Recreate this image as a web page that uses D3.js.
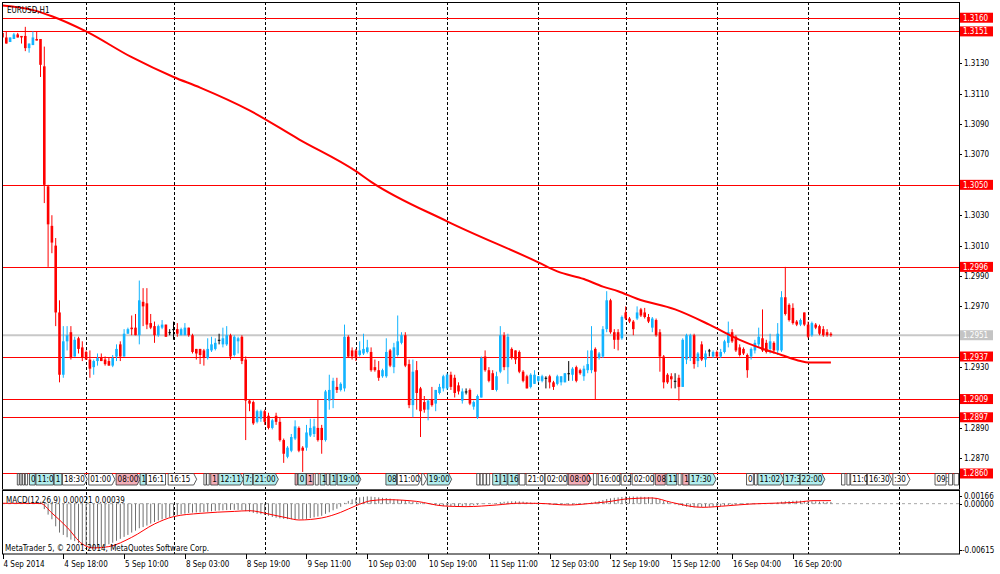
<!DOCTYPE html>
<html><head><meta charset="utf-8">
<script src="https://cdn.jsdelivr.net/npm/d3@7/dist/d3.min.js"></script>
<style>
html,body{margin:0;padding:0;background:#fff;}
svg{display:block;}
text{font-family:"DejaVu Sans Condensed","DejaVu Sans",sans-serif;font-size:8px;fill:#000;}
</style></head><body>
<svg id="chart" width="1000" height="574"></svg>
<script>
// ---------------- DATA ----------------
const symbolTitle = "EURUSD,H1";
const opens = [1.3150,1.3147,1.3144,1.3146,1.3149,1.3148,1.3148,1.3140,1.3142,1.3146,1.3146,1.3128,1.3049,1.3023,1.3010,1.2966,1.2925,1.2947,1.2953,1.2937,
1.2949,1.2943,1.2940,1.2935,1.2930,1.2934,1.2936,1.2935,1.2934,1.2931,1.2937,1.2945,1.2937,1.2952,1.2956,1.2956,1.2951,1.2973,1.2972,1.2959,
1.2957,1.2951,1.2956,1.2958,1.2953,1.2955,1.2955,1.2951,1.2951,1.2956,1.2951,1.2942,1.2942,1.2941,1.2936,1.2941,1.2942,1.2948,1.2945,1.2945,
1.2951,1.2938,1.2947,1.2950,1.2935,1.2908,1.2907,1.2894,1.2896,1.2901,1.2898,1.2890,1.2898,1.2894,1.2882,1.2871,1.2875,1.2883,1.2890,1.2877,
1.2877,1.2885,1.2886,1.2890,1.2890,1.2882,1.2908,1.2909,1.2917,1.2915,1.2916,1.2950,1.2941,1.2941,1.2938,1.2939,1.2940,1.2940,1.2930,1.2928,
1.2924,1.2924,1.2941,1.2930,1.2938,1.2946,1.2951,1.2932,1.2905,1.2928,1.2916,1.2907,1.2902,1.2909,1.2906,1.2913,1.2916,1.2916,1.2925,1.2923,
1.2918,1.2908,1.2914,1.2915,1.2904,1.2897,1.2910,1.2937,1.2928,1.2926,1.2915,1.2927,1.2951,1.2930,1.2942,1.2941,1.2940,1.2927,1.2924,1.2917,
1.2919,1.2921,1.2921,1.2923,1.2924,1.2920,1.2919,1.2920,1.2920,1.2926,1.2925,1.2930,1.2928,1.2924,1.2928,1.2928,1.2942,1.2936,1.2937,1.2955,
1.2974,1.2953,1.2953,1.2949,1.2966,1.2962,1.2960,1.2962,1.2968,1.2966,1.2963,1.2956,1.2961,1.2953,1.2937,1.2925,1.2924,1.2921,1.2923,1.2917,
1.2935,1.2936,1.2951,1.2934,1.2945,1.2935,1.2941,1.2937,1.2940,1.2937,1.2940,1.2946,1.2953,1.2950,1.2943,1.2942,1.2938,1.2937,1.2941,1.2945,
1.2949,1.2946,1.2942,1.2946,1.2941,1.2941,1.2976,1.2971,1.2969,1.2960,1.2958,1.2966,1.2958,1.2951,1.2958,1.2957,1.2955,1.2953,1.2952];
const highs = [1.3151,1.3151,1.3147,1.3150,1.3150,1.3148,1.3154,1.3143,1.3151,1.3151,1.3146,1.3141,1.3050,1.3030,1.3015,1.2974,1.2957,1.2957,1.2957,1.2950,
1.2950,1.2947,1.2941,1.2941,1.2935,1.2939,1.2939,1.2937,1.2936,1.2938,1.2945,1.2947,1.2955,1.2956,1.2964,1.2965,1.2987,1.2982,1.2982,1.2965,
1.2960,1.2958,1.2961,1.2958,1.2955,1.2960,1.2959,1.2956,1.2959,1.2956,1.2952,1.2942,1.2942,1.2942,1.2949,1.2950,1.2949,1.2952,1.2956,1.2957,
1.2952,1.2951,1.2950,1.2951,1.2937,1.2909,1.2908,1.2902,1.2902,1.2902,1.2900,1.2896,1.2900,1.2897,1.2883,1.2878,1.2886,1.2895,1.2891,1.2878,
1.2892,1.2896,1.2896,1.2909,1.2892,1.2915,1.2925,1.2923,1.2923,1.2920,1.2958,1.2951,1.2943,1.2942,1.2947,1.2952,1.2948,1.2943,1.2935,1.2934,
1.2929,1.2949,1.2942,1.2946,1.2964,1.2953,1.2953,1.2935,1.2935,1.2934,1.2917,1.2911,1.2909,1.2917,1.2915,1.2919,1.2925,1.2926,1.2927,1.2925,
1.2920,1.2916,1.2916,1.2916,1.2908,1.2912,1.2937,1.2941,1.2930,1.2928,1.2927,1.2957,1.2953,1.2952,1.2943,1.2941,1.2941,1.2928,1.2925,1.2926,
1.2928,1.2924,1.2925,1.2924,1.2925,1.2921,1.2925,1.2924,1.2926,1.2934,1.2930,1.2931,1.2929,1.2931,1.2941,1.2957,1.2943,1.2940,1.2957,1.2980,
1.2975,1.2955,1.2955,1.2964,1.2970,1.2963,1.2961,1.2970,1.2969,1.2969,1.2965,1.2963,1.2962,1.2955,1.2938,1.2926,1.2926,1.2926,1.2925,1.2949,
1.2952,1.2952,1.2952,1.2940,1.2947,1.2941,1.2942,1.2941,1.2941,1.2942,1.2948,1.2960,1.2955,1.2951,1.2945,1.2943,1.2939,1.2943,1.2948,1.2956,
1.2968,1.2948,1.2952,1.2947,1.2959,1.2980,1.2996,1.2972,1.2972,1.2961,1.2962,1.2966,1.2960,1.2960,1.2959,1.2958,1.2957,1.2955,1.2953];
const lows = [1.3145,1.3143,1.3144,1.3146,1.3147,1.3143,1.3138,1.3137,1.3142,1.3145,1.3121,1.3038,1.2996,1.3005,1.2957,1.2920,1.2923,1.2941,1.2935,1.2937,
1.2939,1.2934,1.2935,1.2923,1.2925,1.2931,1.2934,1.2931,1.2931,1.2930,1.2934,1.2934,1.2937,1.2952,1.2951,1.2951,1.2945,1.2957,1.2955,1.2955,
1.2946,1.2950,1.2955,1.2950,1.2951,1.2948,1.2950,1.2951,1.2951,1.2950,1.2939,1.2935,1.2932,1.2931,1.2935,1.2940,1.2941,1.2945,1.2943,1.2944,
1.2935,1.2937,1.2939,1.2932,1.2882,1.2901,1.2892,1.2893,1.2894,1.2892,1.2889,1.2889,1.2892,1.2881,1.2867,1.2870,1.2874,1.2882,1.2874,1.2861,
1.2875,1.2884,1.2884,1.2881,1.2873,1.2881,1.2902,1.2903,1.2913,1.2914,1.2914,1.2936,1.2935,1.2934,1.2937,1.2938,1.2939,1.2927,1.2927,1.2921,
1.2923,1.2923,1.2930,1.2926,1.2937,1.2945,1.2930,1.2903,1.2897,1.2902,1.2884,1.2900,1.2895,1.2904,1.2901,1.2912,1.2914,1.2915,1.2915,1.2910,
1.2912,1.2906,1.2912,1.2905,1.2902,1.2896,1.2910,1.2927,1.2920,1.2915,1.2914,1.2926,1.2928,1.2919,1.2935,1.2932,1.2926,1.2920,1.2916,1.2916,
1.2919,1.2920,1.2920,1.2916,1.2916,1.2915,1.2918,1.2918,1.2920,1.2921,1.2921,1.2920,1.2925,1.2921,1.2926,1.2926,1.2909,1.2935,1.2936,1.2953,
1.2952,1.2942,1.2941,1.2948,1.2961,1.2959,1.2951,1.2961,1.2963,1.2962,1.2959,1.2953,1.2950,1.2927,1.2916,1.2919,1.2916,1.2916,1.2908,1.2917,
1.2932,1.2934,1.2929,1.2930,1.2934,1.2930,1.2937,1.2936,1.2936,1.2936,1.2939,1.2943,1.2946,1.2940,1.2937,1.2938,1.2923,1.2935,1.2939,1.2943,
1.2940,1.2939,1.2939,1.2939,1.2938,1.2940,1.2964,1.2960,1.2958,1.2957,1.2957,1.2957,1.2949,1.2950,1.2955,1.2951,1.2950,1.2950,1.2950];
const closes = [1.3147,1.3143,1.3147,1.3149,1.3147,1.3147,1.3140,1.3143,1.3147,1.3145,1.3129,1.3050,1.3024,1.3012,1.2966,1.2925,1.2947,1.2951,1.2936,1.2948,
1.2942,1.2936,1.2935,1.2929,1.2934,1.2936,1.2934,1.2932,1.2931,1.2936,1.2942,1.2937,1.2952,1.2955,1.2955,1.2951,1.2974,1.2970,1.2958,1.2956,
1.2951,1.2957,1.2958,1.2950,1.2953,1.2955,1.2952,1.2955,1.2956,1.2951,1.2940,1.2939,1.2938,1.2936,1.2942,1.2945,1.2946,1.2948,1.2949,1.2951,
1.2937,1.2950,1.2949,1.2934,1.2908,1.2906,1.2893,1.2901,1.2901,1.2894,1.2890,1.2895,1.2894,1.2882,1.2873,1.2877,1.2884,1.2891,1.2875,1.2875,
1.2887,1.2890,1.2891,1.2882,1.2882,1.2914,1.2915,1.2921,1.2915,1.2919,1.2950,1.2937,1.2937,1.2936,1.2941,1.2942,1.2943,1.2928,1.2928,1.2923,
1.2928,1.2940,1.2931,1.2943,1.2947,1.2951,1.2931,1.2905,1.2927,1.2913,1.2901,1.2902,1.2908,1.2905,1.2915,1.2917,1.2924,1.2925,1.2917,1.2913,
1.2914,1.2914,1.2914,1.2906,1.2907,1.2911,1.2936,1.2928,1.2921,1.2915,1.2924,1.2951,1.2930,1.2950,1.2936,1.2935,1.2927,1.2921,1.2916,1.2925,
1.2925,1.2924,1.2924,1.2923,1.2920,1.2917,1.2924,1.2924,1.2926,1.2926,1.2929,1.2921,1.2926,1.2929,1.2932,1.2941,1.2927,1.2939,1.2955,1.2974,
1.2953,1.2948,1.2948,1.2963,1.2962,1.2960,1.2955,1.2966,1.2964,1.2963,1.2960,1.2962,1.2951,1.2937,1.2920,1.2920,1.2922,1.2921,1.2917,1.2948,
1.2951,1.2951,1.2932,1.2939,1.2935,1.2939,1.2941,1.2940,1.2937,1.2940,1.2947,1.2953,1.2947,1.2941,1.2938,1.2939,1.2928,1.2942,1.2946,1.2950,
1.2941,1.2940,1.2947,1.2941,1.2952,1.2976,1.2965,1.2961,1.2959,1.2958,1.2961,1.2958,1.2950,1.2959,1.2956,1.2952,1.2951,1.2951,1.2951];

// moving average (read at sample bars)
const maBars   = [0,8,13,22,34,45,52,65,78,93,97,117,141,146,153,158,162,167,177,186,194,199,205,210,212,218];
const maValues = [1.3168,1.3165,1.3161,1.3151,1.3134,1.3121,1.3114,1.3099,1.3080,1.3059,1.3052,1.3026,1.2999,1.2993,1.2988,1.2983,1.2980,1.2975,1.2968,1.2958,1.2948,1.2943,1.2938,1.2934,1.2933,1.2933];

// MACD(12,26,9) main histogram, one value per bar
const macdMain = [0.00008,0.00008,0.00007,0.00007,0.00006,0.00006,0.00005,0.00004,0.00004,0.00003,0.00000,-0.00070,-0.00140,-0.00200,-0.00290,-0.00370,-0.00400,-0.00430,-0.00460,-0.00480,
-0.00505,-0.00530,-0.00545,-0.00560,-0.00567,-0.00565,-0.00555,-0.00540,-0.00520,-0.00500,-0.00475,-0.00450,-0.00425,-0.00400,-0.00370,-0.00345,-0.00315,-0.00300,-0.00280,-0.00255,
-0.00235,-0.00215,-0.00200,-0.00185,-0.00170,-0.00155,-0.00145,-0.00135,-0.00128,-0.00120,-0.00115,-0.00112,-0.00110,-0.00108,-0.00104,-0.00098,-0.00092,-0.00088,-0.00084,-0.00082,
-0.00080,-0.00079,-0.00080,-0.00082,-0.00095,-0.00105,-0.00118,-0.00128,-0.00135,-0.00145,-0.00155,-0.00170,-0.00180,-0.00188,-0.00195,-0.00198,-0.00200,-0.00198,-0.00198,-0.00200,
-0.00195,-0.00185,-0.00175,-0.00165,-0.00155,-0.00130,-0.00110,-0.00085,-0.00065,-0.00040,0.00010,0.00035,0.00055,0.00070,0.00080,0.00088,0.00093,0.00090,0.00085,0.00080,
0.00075,0.00072,0.00065,0.00058,0.00050,0.00045,0.00038,0.00030,0.00025,0.00018,0.00010,0.00005,0.00000,-0.00012,-0.00020,-0.00028,-0.00032,-0.00035,-0.00036,-0.00035,
-0.00033,-0.00030,-0.00028,-0.00026,-0.00022,-0.00015,-0.00005,0.00002,0.00005,0.00004,0.00006,0.00020,0.00024,0.00028,0.00030,0.00030,0.00029,0.00026,0.00020,0.00015,
0.00010,0.00005,0.00000,-0.00005,-0.00010,-0.00015,-0.00017,-0.00018,-0.00017,-0.00015,-0.00014,-0.00013,-0.00013,-0.00008,0.00000,0.00015,0.00025,0.00035,0.00045,0.00060,
0.00068,0.00075,0.00080,0.00086,0.00090,0.00092,0.00091,0.00090,0.00089,0.00086,0.00084,0.00081,0.00072,0.00055,0.00035,0.00020,0.00005,-0.00008,-0.00020,-0.00030,
-0.00038,-0.00045,-0.00047,-0.00046,-0.00044,-0.00042,-0.00040,-0.00038,-0.00035,-0.00030,-0.00025,-0.00020,-0.00017,-0.00014,-0.00012,-0.00010,-0.00009,-0.00009,-0.00007,-0.00004,
0.00000,0.00002,0.00004,0.00008,0.00015,0.00025,0.00030,0.00034,0.00037,0.00038,0.00038,0.00035,0.00033,0.00030,0.00028,0.00026,0.00024,0.00022,0.00021];
// MACD signal line (read at sample bars)
const signalBars   = [0,10,13,17,21,24,28,34,40,45,52,61,65,70,75,78,84,89,93,97,101,109,116,122,130,136,141,149,155,160,164,171,176,184,191,197,205,210,213,218];
const signalValues = [0.00005,0.00003,-0.00120,-0.00303,-0.00516,-0.00567,-0.00550,-0.00431,-0.00260,-0.00166,-0.00124,-0.00099,-0.00090,-0.00132,-0.00183,-0.00209,-0.00183,-0.00111,-0.00026,0.00038,
0.00051,0.00029,-0.00029,-0.00038,-0.00017,0.00006,0.00004,-0.00017,0.00004,0.00029,0.00060,0.00073,0.00017,-0.00047,-0.00026,-0.00004,0.00009,0.00022,0.00038,0.00039];
const macdTitle = "MACD(12,26,9) 0.00021 0.00039";
const macdAxisLabels = ["0.00166","0.00000","-0.00615"];
const macdAxisValues = [0.00166,0.00000,-0.00615];

// price levels (horizontal lines) and bid
const levelValues = [1.3160,1.3151,1.3050,1.2996,1.2937,1.2909,1.2897,1.2860];
const levelLabels = ["1.3160","1.3151","1.3050","1.2996","1.2937","1.2909","1.2897","1.2860"];
const bidValue = 1.2951, bidLabel = "1.2951";
const priceTickValues = [1.3130,1.3110,1.3090,1.3070,1.3030,1.3010,1.2990,1.2970,1.2930,1.2890,1.2870];
const priceTickLabels = ["1.3130","1.3110","1.3090","1.3070","1.3030","1.3010","1.2990","1.2970","1.2930","1.2890","1.2870"];

// time axis
const timeLabelBars = [0,16,32,48,64,80,96,112,128,144,160,176,192,208];
const timeLabels = ["4 Sep 2014","4 Sep 18:00","5 Sep 10:00","8 Sep 03:00","8 Sep 19:00","9 Sep 11:00","10 Sep 03:00","10 Sep 19:00","11 Sep 11:00","12 Sep 03:00","12 Sep 19:00","15 Sep 12:00","16 Sep 04:00","16 Sep 20:00"];
const daySeparatorBars = [22,45,69,93,117,141,164,188,212,236];

// trade history tags (bar span, text, kind)
const tagStart = [3.9,4.6,5.3,6.0,7.1,8.8,13.6,15.8,22.7,29.9,36.2,37.9,43.6,53.0,53.7,54.8,56.9,63.4,66.0,77.0,77.8,80.0,82.3,83.6,85.3,86.2,88.1,100.9,103.9,110.3,111.8,124.8,
125.7,126.5,127.4,129.0,131.1,133.0,136.0,137.8,142.8,148.9,155.5,156.8,162.8,165.7,171.8,174.8,177.8,179.0,180.7,195.8,197.9,198.8,205.5,209.9,220.8,222.2,223.2,227.6,234.3,245.4,249.0,250.4];
const tagEnd   = [4.4,5.1,5.8,6.6,8.6,13.4,15.6,22.3,29.6,36.2,37.7,42.9,51.1,53.6,54.4,56.7,63.4,65.8,72.6,77.6,79.9,81.8,83.1,84.9,86.0,87.8,94.3,103.7,110.1,111.6,118.2,125.6,
126.4,127.3,128.2,130.9,132.8,135.7,137.5,142.7,148.6,154.9,156.4,162.5,165.3,171.4,174.4,177.4,178.6,180.6,187.8,197.6,198.6,205.5,209.9,216.4,221.7,223.0,227.4,234.0,238.8,248.3,250.0,251.6];
const tagText  = ["","","","","0","11:0","1","18:30","01:00","08:00","1","16:1","16:15","","","1","12:11","7:","21:00","","0","1","","1","","1","19:00","08","11:00","","19:00","",
"","","","1","1","16","","21:0","02:00","08:00","","16:00","02","02:00","08","11","","1","17:30","0","","11:02","17:3","22:00","","","11:0","16:30",":30","09:","",""];
const tagKind  = ["w","w","w","w","c","c","c","wa","wa","pa","c","w","wa","w","w","p","ca","c","ca","p","c","p","w","c","w","c","ca","c","wa","wa","ca","w",
"w","w","w","c","c","c","w","w","w","pa","w","w","w","w","p","c","w","p","ca","w","w","ca","c","ca","w","w","w","wa","wa","w","w","w"];
const copyright = "MetaTrader 5, \u00A9 2001-2014, MetaQuotes Software Corp.";

// ---------------- DRAW ----------------
const svg = d3.select("#chart");
const L = 2, R = 959, T = 2, MB = 489, ST = 490.5, SB = 554;
const x = d3.scaleLinear().domain([0, 236]).range([2.5, 899.3]);
const y = d3.scaleLinear().domain([1.2870, 1.3130]).range([458.3, 63.3]);
const ym = d3.scaleLinear().domain([-0.00615, 0.00166]).range([551.7, 490.7]);
const BULL = "#12B4FF", BEAR = "#FF0000", DOJI = "#000000";
const crisp = v => Math.round(v) + 0.5;

const defs = svg.append("defs");
defs.append("clipPath").attr("id","mainClip").append("rect").attr("x",L).attr("y",T).attr("width",R-L).attr("height",MB-T);
defs.append("clipPath").attr("id","subClip").append("rect").attr("x",L).attr("y",ST).attr("width",R-L).attr("height",SB-ST);

svg.append("rect").attr("width",1000).attr("height",574).attr("fill","#fff");

// separators (through both windows)
svg.append("g").selectAll("line").data(daySeparatorBars).join("line")
  .attr("x1", d => crisp(x(d))).attr("x2", d => crisp(x(d)))
  .attr("y1", T).attr("y2", SB)
  .attr("stroke", "#000").attr("stroke-width", 1).attr("stroke-dasharray", "3,2");

const main = svg.append("g").attr("clip-path","url(#mainClip)");

// bid line
main.append("line").attr("x1",L).attr("x2",R).attr("y1",y(bidValue)).attr("y2",y(bidValue))
  .attr("stroke","#C8C8C8").attr("stroke-width",2);

// level lines
main.append("g").selectAll("line").data(levelValues).join("line")
  .attr("x1",L).attr("x2",R).attr("y1",d=>crisp(y(d))).attr("y2",d=>crisp(y(d)))
  .attr("stroke","#FF0000").attr("stroke-width",1);

// candles
const idx = d3.range(opens.length);
const col = i => closes[i] > opens[i] ? BULL : (closes[i] < opens[i] ? BEAR : DOJI);
main.append("g").selectAll("line").data(idx).join("line")
  .attr("x1", i => x(i)).attr("x2", i => x(i))
  .attr("y1", i => y(highs[i])).attr("y2", i => y(lows[i]))
  .attr("stroke", col).attr("stroke-width", 1);
main.append("g").selectAll("rect").data(idx).join("rect")
  .attr("x", i => x(i) - 1.3).attr("width", 2.6)
  .attr("y", i => y(Math.max(opens[i], closes[i])))
  .attr("height", i => Math.max(1, Math.abs(y(opens[i]) - y(closes[i]))))
  .attr("fill", col);

// moving average
const maLine = d3.line().x((d,i)=>x(maBars[i])).y((d,i)=>y(maValues[i])).curve(d3.curveMonotoneX);
main.append("path").datum(maValues).attr("d", maLine).attr("fill","none").attr("stroke","#FF0000").attr("stroke-width",2);

// trade tags
const tagFill = k => k[0]==="c" ? "#B2EEEE" : (k[0]==="p" ? "#F2AEB8" : "#FFFFFF");
const tTop = 473.5, tBot = 485;
const tags = main.append("g").selectAll("g").data(tagStart.map((s,i)=>i)).join("g");
tags.append("path").attr("d", i => {
  const x0 = x(tagStart[i]), x1 = x(tagEnd[i]);
  if (tagKind[i].endsWith("a")) {
    return `M${x0},${tTop}L${x1-3},${tTop}L${x1},${(tTop+tBot)/2}L${x1-3},${tBot}L${x0},${tBot}Z`;
  }
  return `M${x0},${tTop}L${x1},${tTop}L${x1},${tBot}L${x0},${tBot}Z`;
}).attr("fill", i => tagFill(tagKind[i])).attr("stroke","#333").attr("stroke-width",0.8);
tags.append("text").attr("x", i => x(tagStart[i]) + 1.5).attr("y", 482.3).text(i => tagText[i]);

// title
svg.append("text").attr("x",7).attr("y",12.5).text(symbolTitle);

// MACD window
const sub = svg.append("g").attr("clip-path","url(#subClip)");
sub.append("line").attr("x1",L).attr("x2",R).attr("y1",ym(0)).attr("y2",ym(0))
  .attr("stroke","#A8A8A8").attr("stroke-width",1).attr("stroke-dasharray","3,3");
sub.append("g").selectAll("line").data(d3.range(macdMain.length)).join("line")
  .attr("x1", i => x(i)).attr("x2", i => x(i))
  .attr("y1", ym(0)).attr("y2", i => ym(macdMain[i]))
  .attr("stroke", "#707070").attr("stroke-width", 1);
const sigLine = d3.line().x((d,i)=>x(signalBars[i])).y((d,i)=>ym(signalValues[i])).curve(d3.curveMonotoneX);
sub.append("path").datum(signalValues).attr("d", sigLine).attr("fill","none").attr("stroke","#FF0000").attr("stroke-width",1);
svg.append("text").attr("x",6).attr("y",502.5).text(macdTitle);
svg.append("text").attr("x",5).attr("y",550.5).text(copyright);

// frames
svg.append("rect").attr("x",L+0.5).attr("y",T+0.5).attr("width",R-L).attr("height",MB-T).attr("fill","none").attr("stroke","#000");
svg.append("line").attr("x1",L).attr("x2",R+1).attr("y1",490).attr("y2",490).attr("stroke","#555").attr("stroke-width",2);
svg.append("rect").attr("x",L+0.5).attr("y",ST).attr("width",R-L).attr("height",SB-ST).attr("fill","none").attr("stroke","#000");

// right price axis
const ax = svg.append("g");
ax.selectAll("line.t").data(priceTickValues).join("line").attr("class","t")
  .attr("x1",R).attr("x2",R+3).attr("y1",d=>crisp(y(d))).attr("y2",d=>crisp(y(d))).attr("stroke","#000");
ax.selectAll("text.t").data(priceTickValues).join("text").attr("class","t")
  .attr("x",R+5).attr("y",d=>y(d)+3).text((d,i)=>priceTickLabels[i]);
// level labels
const lv = ax.selectAll("g.lv").data(levelValues).join("g").attr("class","lv");
lv.append("rect").attr("x",R+1).attr("y",d=>y(d)-5).attr("width",33).attr("height",10).attr("fill","#FF0000");
lv.append("text").attr("x",R+4).attr("y",d=>y(d)+3).style("fill","#fff").text((d,i)=>levelLabels[i]);
ax.append("rect").attr("x",R+1).attr("y",y(bidValue)-5).attr("width",33).attr("height",10).attr("fill","#C4C4C4");
ax.append("text").attr("x",R+4).attr("y",y(bidValue)+3).style("fill","#fff").text(bidLabel);

// MACD axis
const mPos = [496, ym(0), 550];
macdAxisValues.forEach((v,i)=>{
  svg.append("line").attr("x1",R).attr("x2",R+3).attr("y1",crisp(mPos[i])).attr("y2",crisp(mPos[i])).attr("stroke","#000");
  svg.append("text").attr("x", v<0 ? R+3 : R+5).attr("y",mPos[i]+3).text(macdAxisLabels[i]);
});

// time axis
const tx = svg.append("g");
tx.selectAll("line").data(timeLabelBars).join("line")
  .attr("x1",d=>crisp(x(d))).attr("x2",d=>crisp(x(d))).attr("y1",SB).attr("y2",SB+5).attr("stroke","#000");
tx.selectAll("text").data(timeLabelBars).join("text")
  .attr("x",d=>x(d)+1).attr("y",567).text((d,i)=>timeLabels[i]);
</script>
</body></html>
